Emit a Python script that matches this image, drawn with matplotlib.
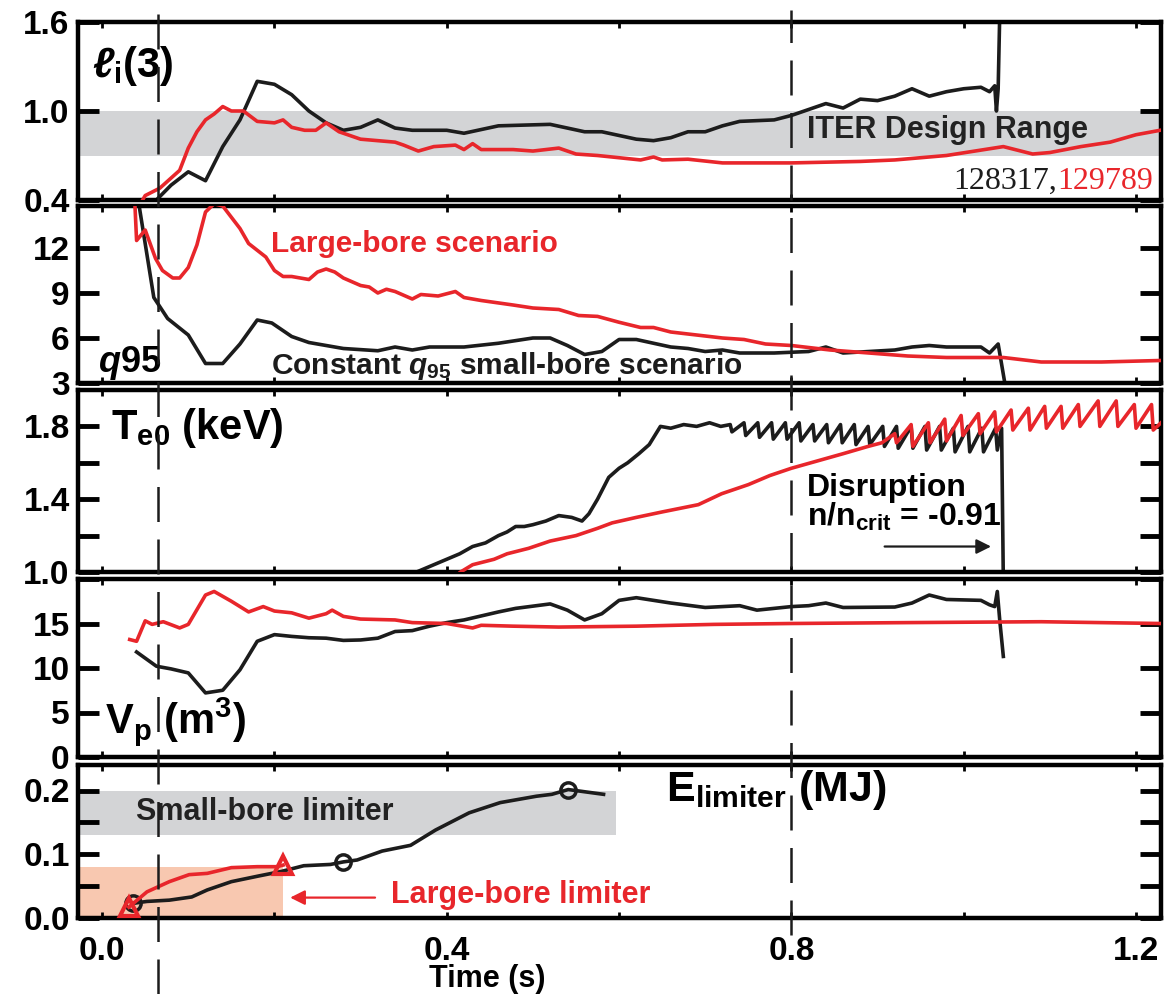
import matplotlib
matplotlib.use('Agg')
import matplotlib.pyplot as plt
from matplotlib.lines import Line2D
from matplotlib.transforms import blended_transform_factory

plt.rcParams['font.family'] = ['Liberation Sans Narrow', 'Liberation Sans', 'DejaVu Sans']
plt.rcParams['font.weight'] = 'bold'
plt.rcParams['mathtext.fontset'] = 'custom'
plt.rcParams['mathtext.rm'] = 'Liberation Sans:bold'
plt.rcParams['mathtext.it'] = 'Liberation Sans:italic:bold'
plt.rcParams['mathtext.bf'] = 'Liberation Sans:bold'

RED = '#e8262b'
BLACK = '#1c1c1c'

# shot 128317 (black, small bore) and 129789 (red, large bore)
# internal inductance li(3)
li_t_small = [0.063, 0.08, 0.10, 0.12, 0.14, 0.16, 0.18, 0.20, 0.22, 0.24, 0.26, 0.28, 0.30, 0.32,
              0.34, 0.36, 0.40, 0.42, 0.46, 0.52, 0.56, 0.58, 0.62, 0.64, 0.66, 0.68, 0.70, 0.72,
              0.74, 0.78, 0.80, 0.82, 0.84, 0.86, 0.88, 0.90, 0.92, 0.94, 0.96, 0.98, 1.00, 1.02,
              1.03, 1.036, 1.038, 1.040, 1.042]
li_small = [0.40, 0.50, 0.59, 0.53, 0.76, 0.94, 1.20, 1.18, 1.11, 1.00, 0.92, 0.87, 0.89, 0.94,
            0.885, 0.87, 0.87, 0.85, 0.90, 0.91, 0.86, 0.86, 0.81, 0.80, 0.82, 0.86, 0.86, 0.90,
            0.93, 0.94, 0.97, 1.01, 1.05, 1.02, 1.08, 1.07, 1.10, 1.15, 1.10, 1.13, 1.15, 1.16,
            1.13, 1.17, 1.00, 1.15, 1.70]
li_t_large = [0.047, 0.05, 0.067, 0.09, 0.10, 0.11, 0.12, 0.13, 0.14, 0.15, 0.164, 0.18, 0.20, 0.21,
              0.22, 0.235, 0.248, 0.26, 0.275, 0.30, 0.32, 0.34, 0.35, 0.367, 0.385, 0.41, 0.42,
              0.43, 0.44, 0.477, 0.50, 0.53, 0.55, 0.575, 0.625, 0.64, 0.65, 0.68, 0.72, 0.80,
              0.88, 0.92, 0.98, 1.046, 1.08, 1.10, 1.136, 1.17, 1.20, 1.228]
li_large = [0.40, 0.43, 0.48, 0.60, 0.75, 0.86, 0.94, 0.98, 1.03, 1.00, 1.00, 0.93, 0.92, 0.94,
            0.89, 0.87, 0.87, 0.92, 0.86, 0.81, 0.80, 0.79, 0.77, 0.73, 0.76, 0.77, 0.74,
            0.78, 0.74, 0.74, 0.73, 0.75, 0.71, 0.70, 0.67, 0.69, 0.67, 0.675, 0.65, 0.65,
            0.66, 0.67, 0.70, 0.76, 0.71, 0.72, 0.76, 0.79, 0.84, 0.87]
iter_li_range = (0.7, 1.0)

# safety factor q95
q_t_small = [0.043, 0.06, 0.076, 0.10, 0.12, 0.14, 0.16, 0.18, 0.197, 0.22, 0.24, 0.26, 0.28, 0.32,
             0.34, 0.36, 0.38, 0.42, 0.46, 0.50, 0.52, 0.54, 0.56, 0.58, 0.60, 0.62, 0.66, 0.68,
             0.70, 0.72, 0.74, 0.78, 0.82, 0.84, 0.86, 0.92, 0.94, 0.96, 0.98, 1.02, 1.03, 1.04,
             1.048]
q_small = [14.8, 8.7, 7.3, 6.2, 4.3, 4.3, 5.6, 7.2, 7.0, 6.1, 5.7, 5.5, 5.3, 5.15,
           5.4, 5.2, 5.4, 5.4, 5.65, 6.0, 6.0, 5.5, 4.9, 5.1, 5.9, 5.9, 5.4, 5.3,
           5.1, 5.2, 5.0, 5.0, 5.1, 5.4, 5.0, 5.2, 5.4, 5.5, 5.4, 5.4, 5.0, 5.6, 2.9]
q_t_large = [0.038, 0.04, 0.05, 0.062, 0.07, 0.082, 0.09, 0.10, 0.11, 0.12, 0.13, 0.14, 0.16, 0.17,
             0.19, 0.20, 0.21, 0.22, 0.24, 0.25, 0.26, 0.27, 0.28, 0.30, 0.31, 0.32, 0.33, 0.34,
             0.36, 0.37, 0.39, 0.41, 0.42, 0.44, 0.477, 0.50, 0.53, 0.553, 0.575, 0.60, 0.625,
             0.64, 0.66, 0.69, 0.72, 0.745, 0.77, 0.80, 0.845, 0.89, 0.935, 0.98, 1.046, 1.09,
             1.16, 1.228]
q_large = [14.95, 12.5, 13.2, 11.3, 10.5, 10.0, 10.0, 10.7, 12.2, 14.4, 14.95, 14.8, 13.3, 12.3,
           11.4, 10.5, 10.1, 10.1, 9.9, 10.4, 10.6, 10.4, 10.0, 9.5, 9.4, 9.0, 9.25, 9.1,
           8.6, 8.9, 8.8, 9.1, 8.7, 8.5, 8.2, 8.0, 7.9, 7.5, 7.44, 7.05, 6.7,
           6.7, 6.4, 6.2, 6.0, 5.9, 5.6, 5.5, 5.2, 5.0, 4.8, 4.7, 4.7, 4.4,
           4.4, 4.5]

# central electron temperature (keV), sawteeth included
te_t_small = [0.365, 0.38, 0.40, 0.415, 0.43, 0.445, 0.46, 0.47, 0.48, 0.49, 0.50, 0.515, 0.53,
              0.545, 0.557, 0.565, 0.575, 0.588, 0.60, 0.61, 0.623, 0.635, 0.648, 0.66, 0.675,
              0.69, 0.705, 0.718,
              0.729, 0.731, 0.745, 0.747, 0.761, 0.763, 0.777, 0.779, 0.793, 0.795, 0.809, 0.811,
              0.825, 0.827, 0.841, 0.843, 0.857, 0.859, 0.873, 0.875, 0.889, 0.891, 0.906, 0.908,
              0.922, 0.924, 0.939, 0.941, 0.955, 0.957, 0.972, 0.974, 0.988, 0.990, 1.005, 1.007,
              1.021, 1.023, 1.037, 1.039, 1.044, 1.046]
te_small = [1.00, 1.03, 1.07, 1.10, 1.14, 1.16, 1.20, 1.22, 1.25, 1.25, 1.26, 1.28, 1.31,
            1.30, 1.28, 1.32, 1.40, 1.52, 1.57, 1.60, 1.65, 1.70, 1.80, 1.79, 1.81,
            1.80, 1.82, 1.80,
            1.81, 1.77, 1.82, 1.75, 1.82, 1.74, 1.82, 1.73, 1.82, 1.73, 1.82, 1.72,
            1.81, 1.72, 1.81, 1.71, 1.81, 1.71, 1.81, 1.70, 1.80, 1.70, 1.80, 1.69,
            1.80, 1.68, 1.80, 1.68, 1.80, 1.67, 1.80, 1.67, 1.79, 1.66, 1.80, 1.66,
            1.79, 1.66, 1.79, 1.67, 1.79, 0.95]
te_t_large = [0.416, 0.43, 0.455, 0.47, 0.495, 0.52, 0.55, 0.575, 0.592, 0.62, 0.65, 0.692, 0.719,
              0.75, 0.775, 0.80, 0.83, 0.86, 0.889, 0.905,
              0.920, 0.922, 0.939, 0.941, 0.959, 0.961, 0.978, 0.980, 0.997, 0.999, 1.017, 1.019,
              1.036, 1.038, 1.055, 1.057, 1.075, 1.077, 1.094, 1.096, 1.113, 1.115, 1.133, 1.135,
              1.156, 1.158, 1.177, 1.179, 1.198, 1.200, 1.218, 1.220, 1.229]
te_large = [1.00, 1.04, 1.07, 1.10, 1.13, 1.17, 1.20, 1.24, 1.27, 1.30, 1.33, 1.37, 1.43,
            1.48, 1.53, 1.57, 1.61, 1.65, 1.69, 1.71,
            1.76, 1.71, 1.81, 1.69, 1.82, 1.71, 1.84, 1.72, 1.86, 1.75, 1.87, 1.76,
            1.88, 1.77, 1.89, 1.78, 1.90, 1.78, 1.91, 1.79, 1.91, 1.79, 1.92, 1.80,
            1.94, 1.80, 1.94, 1.80, 1.92, 1.79, 1.92, 1.78, 1.82]

# plasma volume (m^3)
vp_t_small = [0.04, 0.063, 0.08, 0.10, 0.12, 0.14, 0.16, 0.18, 0.20, 0.22, 0.24, 0.26, 0.28, 0.30,
              0.32, 0.34, 0.36, 0.38, 0.40, 0.42, 0.46, 0.48, 0.52, 0.54, 0.56, 0.58, 0.60, 0.62,
              0.66, 0.70, 0.74, 0.76, 0.80, 0.82, 0.84, 0.86, 0.92, 0.94, 0.96, 0.98, 1.02, 1.03,
              1.036, 1.039, 1.042, 1.046]
vp_small = [11.8, 10.2, 9.9, 9.45, 7.2, 7.5, 9.8, 13.0, 13.75, 13.55, 13.4, 13.35, 13.1, 13.15,
            13.35, 14.1, 14.2, 14.7, 15.1, 15.4, 16.3, 16.7, 17.2, 16.5, 15.4, 16.1, 17.6, 17.9,
            17.3, 16.8, 17.0, 16.5, 16.9, 17.0, 17.3, 16.8, 16.85, 17.3, 18.2, 17.7, 17.6, 17.1,
            16.9, 18.6, 15.2, 11.3]
vp_t_large = [0.032, 0.04, 0.05, 0.058, 0.071, 0.09, 0.10, 0.12, 0.13, 0.15, 0.17, 0.187, 0.20,
              0.22, 0.24, 0.26, 0.267, 0.28, 0.30, 0.34, 0.36, 0.40, 0.43, 0.44, 0.477, 0.53,
              0.62, 0.71, 0.80, 0.935, 1.09, 1.228]
vp_large = [13.2, 13.0, 15.3, 14.9, 15.2, 14.5, 14.9, 18.2, 18.6, 17.5, 16.3, 16.9, 16.4,
            16.2, 15.6, 16.1, 16.5, 15.8, 15.5, 15.4, 15.1, 15.0, 14.5, 14.8, 14.7, 14.6,
            14.7, 14.9, 15.0, 15.1, 15.2, 15.0]

# energy deposited on the limiter (MJ)
e_t_small = [0.036, 0.052, 0.078, 0.104, 0.122, 0.15, 0.182, 0.208, 0.234, 0.265, 0.28, 0.296,
             0.325, 0.358, 0.387, 0.426, 0.462, 0.504, 0.522, 0.541, 0.582]
e_small = [0.023, 0.026, 0.028, 0.033, 0.044, 0.057, 0.066, 0.073, 0.082, 0.084, 0.088, 0.091,
           0.105, 0.114, 0.138, 0.165, 0.181, 0.191, 0.194, 0.2015, 0.194]
e_mark_t_small = [0.036, 0.28, 0.541]
e_mark_small = [0.023, 0.088, 0.2015]
e_t_large = [0.031, 0.052, 0.078, 0.101, 0.122, 0.15, 0.18, 0.203, 0.21]
e_large = [0.017, 0.041, 0.057, 0.068, 0.070, 0.079, 0.0805, 0.0805, 0.083]
e_mark_t_large = [0.031, 0.21]
e_mark_large = [0.017, 0.083]
small_bore_band = (0.13, 0.20)
small_bore_tmax = 0.596
large_bore_band = (0.0, 0.08)
large_bore_tmax = 0.21

t_markers = [0.065, 0.8]
t_limits = (-0.028, 1.229)

fig = plt.figure(figsize=(11.68, 9.94), dpi=100)
H = 994.0
left, width = 78 / 1168, 1083 / 1168
rows = [(22, 200), (206, 383), (390, 572), (579, 757), (765, 918)]
axes = [fig.add_axes([left, 1 - b / H, width, (b - t) / H]) for t, b in rows]
ax1, ax2, ax3, ax4, ax5 = axes


def style(ax, ylim, yticks, ylabels):
    ax.set_xlim(*t_limits)
    ax.set_ylim(*ylim)
    ax.set_yticks(yticks)
    ax.set_yticklabels(ylabels)
    ax.set_xticks([0.0, 0.2, 0.4, 0.6, 0.8, 1.0, 1.2])
    ax.tick_params(axis='y', direction='in', length=15, width=3.5, left=True, right=True,
                   labelsize=24, pad=6)
    ax.tick_params(axis='x', direction='in', length=4, width=2, top=True, bottom=True,
                   labelbottom=False)
    for sp in ax.spines.values():
        sp.set_linewidth(3.2)


# li(3)
style(ax1, (0.4, 1.6), [0.4, 1.0, 1.6], ['0.4', '1.0', '1.6'])
ax1.axhspan(*iter_li_range, color='#d3d4d6', zorder=0, lw=0)
ax1.plot(li_t_small, li_small, color=BLACK, lw=2.6, zorder=2)
ax1.plot(li_t_large, li_large, color=RED, lw=2.6, zorder=3)
ax1.text(-0.012, 1.30, r'$\ell_{\mathrm{i}}$(3)', fontsize=30, va='center')
ax1.text(0.818, 0.87, 'ITER Design Range', fontsize=22, va='center', color='#222222')
shot1 = ax1.text(0.988, 0.525, '128317,', fontsize=23, va='center', color=BLACK,
                 family='Liberation Serif', fontweight='normal')
ax1.annotate('129789', xy=(1, 0), xycoords=shot1, va='bottom', fontsize=23, color=RED,
             family='Liberation Serif', fontweight='normal')

# q95
style(ax2, (3, 14.8), [3, 6, 9, 12], ['3', '6', '9', '12'])
ax2.plot(q_t_small, q_small, color=BLACK, lw=2.6, zorder=2)
ax2.plot(q_t_large, q_large, color=RED, lw=2.6, zorder=3)
ax2.text(0.196, 12.3, 'Large-bore scenario', fontsize=21.5, color=RED, va='center')
ax2.text(0.196, 4.1, r'Constant $q_{95}$ small-bore scenario', fontsize=21.5, color=BLACK,
         va='center')
ax2.text(-0.005, 4.3, r'$q$95', fontsize=26, va='center')

# Te0
style(ax3, (1.0, 2.0), [1.0, 1.2, 1.4, 1.6, 1.8], ['1.0', '', '1.4', '', '1.8'])
ax3.plot(te_t_small, te_small, color=BLACK, lw=2.6, zorder=2)
ax3.plot(te_t_large, te_large, color=RED, lw=2.6, zorder=3)
ax3.text(0.01, 1.79, r'T$_{\mathrm{e0}}$ (keV)', fontsize=30, va='center')
ax3.text(0.818, 1.46, 'Disruption', fontsize=23, va='center')
ax3.text(0.818, 1.30, r'n/n$_{\mathrm{crit}}$ = -0.91', fontsize=23, va='center')
ax3.annotate('', xy=(1.035, 1.14), xytext=(0.905, 1.14),
             arrowprops=dict(arrowstyle='-|>', color=BLACK, lw=1.6, mutation_scale=22))

# Vp
style(ax4, (0, 20), [0, 5, 10, 15, 20], ['0', '5', '10', '15', ''])
ax4.plot(vp_t_small, vp_small, color=BLACK, lw=2.6, zorder=2)
ax4.plot(vp_t_large, vp_large, color=RED, lw=2.6, zorder=3)
ax4.text(0.003, 4.0, r'V$_{\mathrm{p}}$ (m$^{\mathrm{3}}$)', fontsize=30, va='center')

# limiter energy
style(ax5, (0, 0.24), [0.0, 0.05, 0.1, 0.15, 0.2], ['0.0', '', '0.1', '', '0.2'])
ax5.fill_between([t_limits[0], small_bore_tmax], *small_bore_band, color='#d3d4d6', lw=0,
                 zorder=0)
ax5.fill_between([t_limits[0], large_bore_tmax], *large_bore_band, color='#f8c8b0', lw=0,
                 zorder=0)
ax5.plot(e_t_small, e_small, color=BLACK, lw=2.6, zorder=2)
ax5.plot(e_mark_t_small, e_mark_small, 'o', mfc='none', mec=BLACK, ms=11, mew=2.5, zorder=2)
ax5.plot(e_t_large, e_large, color=RED, lw=2.6, zorder=3)
ax5.plot(e_mark_t_large, e_mark_large, '^', mfc='none', mec=RED, ms=13, mew=3, zorder=3)
ax5.text(0.039, 0.167, 'Small-bore limiter', fontsize=22, va='center', color='#222222')
ax5.text(0.335, 0.036, 'Large-bore limiter', fontsize=22, va='center', color=RED)
ax5.annotate('', xy=(0.215, 0.032), xytext=(0.32, 0.032),
             arrowprops=dict(arrowstyle='-|>', color=RED, lw=1.6, mutation_scale=22))
ax5.text(0.655, 0.2, r'E$_{\mathrm{limiter}}$ (MJ)', fontsize=31, va='center')
ax5.set_xticklabels(['0.0', '', '0.4', '', '0.8', '', '1.2'])
ax5.tick_params(axis='x', labelbottom=True, labelsize=24, pad=13)
fig.text(487 / 1168, 0.0, 'Time (s)', fontsize=22, ha='center', va='bottom')

# dashed time markers running through all panels
trans = blended_transform_factory(ax5.transData, fig.transFigure)
for tm, y0 in zip(t_markers, [0.0, 1 - 935 / H]):
    fig.add_artist(Line2D([tm, tm], [y0, 0.99], transform=trans, color=BLACK, lw=1.8,
                          dashes=(14, 7), zorder=5))

fig.savefig('out.png', dpi=100)
